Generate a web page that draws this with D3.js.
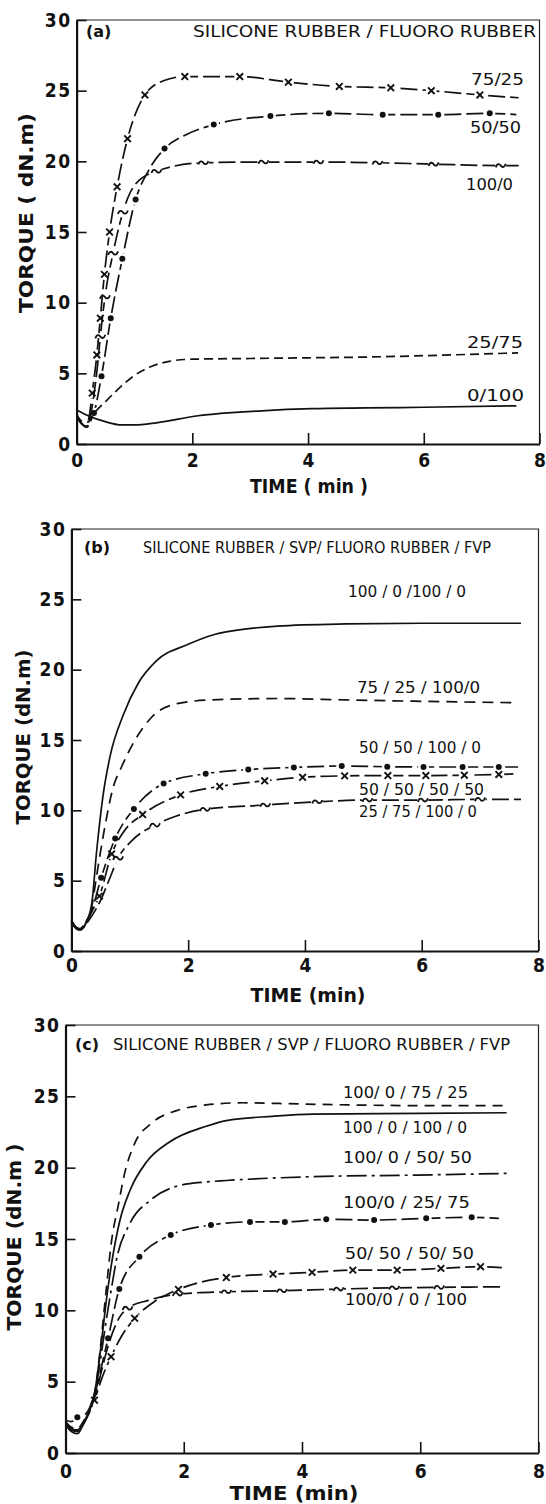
<!DOCTYPE html>
<html>
<head>
<meta charset="utf-8">
<script src="https://cdn.jsdelivr.net/npm/d3@7"></script>
<style>
	body { margin: 0; background: #fff; }
	svg text { fill: #111; }
</style>
</head>
<body>
<div id="chart"></div>
<script>
// axis ticks shared by all three panels
const timeTicks = [0, 2, 4, 6, 8];
const torqueTicks = [0, 5, 10, 15, 20, 25, 30];

// ---- panel (a) : silicone rubber / fluoro rubber ----
const titleA = "SILICONE RUBBER / FLUORO RUBBER";
const namesA = ["75/25", "50/50", "100/0", "25/75", "0/100"];
const a7525 = [[0,2.0],[0.08,1.5],[0.16,1.2],[0.22,2.0],[0.27,3.6],[0.35,6.3],[0.41,8.9],[0.48,12.0],[0.57,15.0],[0.70,18.2],[0.88,21.6],[1.18,24.7],[1.5,25.7],[1.87,26.0],[2.82,26.0],[3.66,25.6],[4.54,25.3],[5.43,25.2],[6.13,25.0],[6.97,24.7],[7.64,24.5]];
const a7525Marks = [0.27,0.35,0.41,0.48,0.57,0.70,0.88,1.18,1.87,2.82,3.66,4.54,5.43,6.13,6.97];
const a5050 = [[0,1.9],[0.09,1.4],[0.18,1.2],[0.24,1.6],[0.30,2.2],[0.43,4.8],[0.59,8.9],[0.79,13.1],[1.02,17.3],[1.25,19.4],[1.52,20.9],[1.9,21.9],[2.37,22.6],[3.35,23.2],[4.36,23.4],[5.29,23.3],[6.25,23.3],[7.14,23.4],[7.6,23.3]];
const a5050Marks = [0.30,0.43,0.59,0.79,1.02,1.52,2.37,3.35,4.36,5.29,6.25,7.14];
const a1000 = [[0,2.0],[0.09,1.45],[0.18,1.25],[0.24,2.0],[0.3,3.5],[0.36,5.5],[0.41,7.6],[0.49,10.4],[0.63,13.5],[0.80,16.4],[1.0,18.3],[1.38,19.3],[2.19,19.9],[3.23,19.95],[4.18,19.95],[5.2,19.9],[6.17,19.8],[7.33,19.7],[7.64,19.7]];
const a1000Marks = [0.41,0.49,0.63,0.80,1.38,2.19,3.23,4.18,5.2,6.17,7.33];
const a2575 = [[0,2.1],[0.1,1.6],[0.2,1.55],[0.29,2.1],[0.5,3.0],[0.75,4.0],[1.0,4.85],[1.3,5.5],[1.6,5.85],[2.0,6.0],[3.0,6.05],[4.0,6.1],[5.0,6.15],[6.0,6.25],[7.63,6.45]];
const a0100 = [[0,2.4],[0.2,2.0],[0.48,1.6],[0.78,1.35],[1.0,1.35],[1.38,1.5],[2.1,2.0],[3.2,2.35],[4.07,2.5],[5.0,2.55],[6.0,2.6],[7.6,2.7]];

// ---- panel (b) : silicone rubber / SVP / fluoro rubber / FVP ----
const titleB = "SILICONE RUBBER / SVP/ FLUORO RUBBER / FVP";
const namesB = ["100 / 0 /100 / 0", "75 / 25 / 100/0", "50 / 50 / 100 / 0", "50 / 50 / 50 / 50", "25 / 75 / 100 / 0"];
const b1000 = [[0,2.2],[0.07,1.7],[0.15,1.5],[0.25,2.0],[0.35,3.4],[0.43,7.0],[0.54,11.0],[0.66,13.8],[0.89,16.8],[1.14,19.0],[1.45,20.6],[2.0,21.8],[2.45,22.5],[3.0,22.9],[3.53,23.1],[4.7,23.25],[6.0,23.3],[7.7,23.3]];
const b7525 = [[0,2.1],[0.08,1.6],[0.15,1.5],[0.25,2.0],[0.35,3.2],[0.43,5.3],[0.55,8.3],[0.72,11.7],[0.86,13.1],[1.09,15.0],[1.37,16.6],[1.83,17.6],[2.4,17.85],[3.53,17.95],[4.7,17.85],[6.0,17.75],[7.64,17.65]];
const b5050f = [[0,2.2],[0.08,1.7],[0.15,1.6],[0.25,2.1],[0.35,2.9],[0.51,5.2],[0.75,8.0],[1.07,10.1],[1.58,11.9],[2.3,12.6],[3.03,12.9],[3.81,13.05],[4.63,13.15],[5.41,13.1],[6.03,13.08],[6.7,13.08],[7.32,13.08],[7.65,13.08]];
const b5050fMarks = [0.51,0.75,1.07,1.58,2.3,3.03,3.81,4.63,5.41,6.03,6.7,7.32];
const b5050 = [[0,2.1],[0.08,1.7],[0.15,1.55],[0.25,2.0],[0.35,2.8],[0.48,3.9],[0.69,6.9],[0.9,8.5],[1.22,9.7],[1.87,11.1],[2.54,11.7],[3.31,12.1],[3.96,12.35],[4.68,12.45],[5.42,12.47],[6.07,12.47],[6.73,12.5],[7.32,12.55],[7.65,12.6]];
const b5050Marks = [0.48,0.69,1.22,1.87,2.54,3.31,3.96,4.68,5.42,6.07,6.73,7.32];
const b2575 = [[0,2.0],[0.08,1.6],[0.15,1.5],[0.25,1.9],[0.35,2.5],[0.5,3.6],[0.65,5.1],[0.8,6.6],[1.05,7.9],[1.43,8.95],[1.8,9.6],[2.29,10.07],[3.32,10.38],[4.21,10.61],[5.07,10.73],[6.02,10.73],[7.0,10.78],[7.7,10.78]];
const b2575Marks = [0.8,1.43,2.29,3.32,4.21,5.07,6.02,7.0];

// ---- panel (c) : silicone rubber / SVP / fluoro rubber / FVP ----
const titleC = "SILICONE RUBBER / SVP / FLUORO RUBBER / FVP";
const namesC = ["100/ 0 / 75 / 25", "100 / 0 / 100 / 0", "100/ 0 / 50/ 50", "100/0 / 25/ 75", "50/ 50 / 50/ 50", "100/0 / 0 / 100"];
const c7525 = [[0,2.2],[0.1,1.8],[0.2,1.7],[0.3,2.2],[0.4,3.0],[0.5,4.3],[0.58,7.0],[0.69,11.5],[0.78,14.9],[0.89,17.3],[1.0,19.6],[1.17,21.7],[1.45,23.1],[1.88,24.0],[2.38,24.4],[3.0,24.55],[3.6,24.5],[4.76,24.4],[6.0,24.35],[7.45,24.35]];
const c1000 = [[0,2.0],[0.1,1.5],[0.2,1.35],[0.3,2.0],[0.4,3.0],[0.5,4.4],[0.6,7.5],[0.7,11.0],[0.8,13.8],[0.92,16.3],[1.09,18.4],[1.37,20.4],[1.76,21.8],[2.38,22.9],[2.72,23.3],[3.5,23.6],[4.18,23.75],[6.0,23.8],[7.46,23.85]];
const c5050 = [[0,2.1],[0.1,1.7],[0.2,1.6],[0.3,2.1],[0.4,2.9],[0.5,4.2],[0.6,6.8],[0.7,9.6],[0.78,11.6],[0.86,13.5],[1.09,16.1],[1.43,17.7],[1.88,18.7],[2.38,19.0],[2.72,19.1],[4.18,19.37],[5.94,19.48],[7.46,19.6]];
const c2575 = [[0,2.3],[0.1,2.2],[0.2,2.5],[0.3,2.6],[0.4,3.1],[0.5,4.2],[0.6,5.9],[0.72,8.04],[0.91,11.5],[1.25,13.76],[1.78,15.28],[2.46,15.98],[3.12,16.2],[3.71,16.2],[4.41,16.38],[5.22,16.33],[6.1,16.45],[6.87,16.52],[7.33,16.45]];
const c2575Marks = [0.2,0.72,0.91,1.25,1.78,2.46,3.12,3.71,4.41,5.22,6.1,6.87];
const c5050x = [[0,2.0],[0.1,1.6],[0.2,1.5],[0.3,2.0],[0.4,2.8],[0.49,3.7],[0.62,5.3],[0.77,6.75],[0.95,8.2],[1.17,9.44],[1.5,10.6],[1.91,11.47],[2.72,12.3],[3.51,12.54],[4.17,12.66],[4.86,12.82],[5.61,12.82],[6.35,12.94],[7.02,13.06],[7.38,13.0]];
const c5050xMarks = [0.49,0.77,1.17,1.91,2.72,3.51,4.17,4.86,5.61,6.35,7.02];
const c0100 = [[0,2.1],[0.1,1.7],[0.2,1.6],[0.3,2.1],[0.4,2.9],[0.5,4.0],[0.6,5.6],[0.7,7.2],[0.85,9.0],[1.05,10.15],[1.4,10.7],[1.9,11.14],[2.72,11.3],[3.66,11.37],[4.62,11.49],[5.56,11.58],[6.32,11.61],[7.35,11.65]];
const c0100Marks = [1.05,1.9,2.72,3.66,4.62,5.56,6.32];

// line dash styles
const LONG = "17,5";

const panels = [
	{
		tag: "(a)", title: titleA, left: 76.6, right: 539.5, top: 20, bottom: 444,
		tagPos: [86, 37], titlePos: [193, 37, 343],
		yTitle: ["TORQUE ( dN.m)", 26, 213, 200], xTitle: ["TIME ( min )", 309, 493, 118],
		xTickBase: 23, yTickPad: 5,
		series: [
			{ data: a7525, marks: a7525Marks, marker: "x", dash: LONG, label: [namesA[0], 471, 85, 53] },
			{ data: a5050, marks: a5050Marks, marker: "dot", dash: LONG, label: [namesA[1], 470, 133, 51] },
			{ data: a1000, marks: a1000Marks, marker: "tilde", dash: LONG, label: [namesA[2], 466, 190, 47] },
			{ data: a2575, dash: "9,5", label: [namesA[3], 467, 348, 56] },
			{ data: a0100, dash: null, label: [namesA[4], 467, 401, 57] }
		]
	},
	{
		tag: "(b)", title: titleB, left: 71.4, right: 538.5, top: 529, bottom: 951,
		tagPos: [84, 553], titlePos: [143, 553, 348],
		yTitle: ["TORQUE (dN.m)", 23, 737, 175], xTitle: ["TIME (min)", 308, 1002, 115],
		xTickBase: 21, yTickPad: 5,
		series: [
			{ data: b1000, dash: null, label: [namesB[0], 348, 597, 118] },
			{ data: b7525, dash: "11,7", label: [namesB[1], 357, 693, 123] },
			{ data: b5050f, marks: b5050fMarks, marker: "dot", dash: LONG, label: [namesB[2], 359, 753, 122] },
			{ data: b5050, marks: b5050Marks, marker: "x", dash: LONG, label: [namesB[3], 359, 795, 125] },
			{ data: b2575, marks: b2575Marks, marker: "tilde", dash: LONG, label: [namesB[4], 359, 817, 118] }
		]
	},
	{
		tag: "(c)", title: titleC, left: 65.5, right: 538.5, top: 1025, bottom: 1453,
		tagPos: [75, 1050], titlePos: [113, 1050, 397],
		yTitle: ["TORQUE (dN.m )", 14, 1237, 187], xTitle: ["TIME (min)", 294, 1500, 129],
		xTickBase: 25, yTickPad: 5,
		series: [
			{ data: c7525, dash: "10,7", label: [namesC[0], 343, 1098, 125] },
			{ data: c1000, dash: null, label: [namesC[1], 343, 1133, 124] },
			{ data: c5050, dash: "20,5,3,5", label: [namesC[2], 343, 1163, 129] },
			{ data: c2575, marks: c2575Marks, marker: "dot", dash: LONG, label: [namesC[3], 343, 1208, 127] },
			{ data: c5050x, marks: c5050xMarks, marker: "x", dash: LONG, label: [namesC[4], 345, 1259, 129] },
			{ data: c0100, marks: c0100Marks, marker: "tilde", dash: LONG, label: [namesC[5], 345, 1305, 122] }
		]
	}
];

const svg = d3.select("#chart")
	.append("svg")
	.attr("width", 546)
	.attr("height", 1504);

const defs = svg.append("defs");
const tickFont = "'DejaVu Sans Condensed', 'DejaVu Sans', sans-serif";
const textFont = "'DejaVu Sans', sans-serif";

function drawPanel(p, pi) {
	const x = d3.scaleLinear().domain([0, 8]).range([p.left, p.right]);
	const y = d3.scaleLinear().domain([0, 30]).range([p.bottom, p.top]);
	const graph = svg.append("g");

	// thin frame on top and right
	graph.append("path")
		.attr("d", `M${p.left},${p.top}H${p.right}V${p.bottom}`)
		.attr("fill", "none")
		.attr("stroke", "#222")
		.attr("stroke-width", 1.2);

	// axes, ticks pointing inwards
	const xAxisGroup = graph.append("g").attr("transform", `translate(0, ${p.bottom})`);
	xAxisGroup.call(d3.axisBottom(x).tickValues(timeTicks).tickSizeInner(-11).tickSizeOuter(0));
	const yAxisGroup = graph.append("g").attr("transform", `translate(${p.left}, 0)`);
	yAxisGroup.call(d3.axisLeft(y).tickValues(torqueTicks).tickSizeInner(-10).tickSizeOuter(0).tickPadding(p.yTickPad));

	[xAxisGroup, yAxisGroup].forEach(ax => {
		ax.select(".domain").attr("stroke", "#111").attr("stroke-width", 2.2);
		ax.selectAll(".tick line").attr("stroke", "#111").attr("stroke-width", 1.6);
		ax.selectAll("text")
			.attr("fill", "#111")
			.style("font-family", tickFont)
			.style("font-weight", "bold")
			.style("font-size", "19px");
	});
	yAxisGroup.selectAll("text").style("letter-spacing", "1.5px");
	xAxisGroup.selectAll("text").attr("y", p.xTickBase).attr("dy", null);

	// titles
	graph.append("text")
		.attr("x", p.tagPos[0]).attr("y", p.tagPos[1])
		.style("font-family", textFont).style("font-weight", "bold").style("font-size", "16px")
		.text(p.tag);
	graph.append("text")
		.attr("x", p.titlePos[0]).attr("y", p.titlePos[1])
		.attr("textLength", p.titlePos[2]).attr("lengthAdjust", "spacingAndGlyphs")
		.style("font-family", textFont).style("font-size", "15px")
		.text(p.title);
	graph.append("text")
		.attr("x", p.xTitle[1]).attr("y", p.xTitle[2])
		.attr("text-anchor", "middle")
		.attr("textLength", p.xTitle[3]).attr("lengthAdjust", "spacingAndGlyphs")
		.style("font-family", textFont).style("font-weight", "bold").style("font-size", "19px")
		.text(p.xTitle[0]);
	graph.append("text")
		.attr("transform", `translate(${p.yTitle[1]}, ${p.yTitle[2]}) rotate(-90)`)
		.attr("text-anchor", "middle")
		.attr("dy", "0.36em")
		.attr("textLength", p.yTitle[3]).attr("lengthAdjust", "spacingAndGlyphs")
		.style("font-family", textFont).style("font-weight", "bold").style("font-size", "19px")
		.text(p.yTitle[0]);

	const line = d3.line()
		.x(d => x(d[0]))
		.y(d => y(d[1]))
		.curve(d3.curveMonotoneX);

	p.series.forEach((s, si) => {
		const markPts = (s.marks || []).map(t => s.data.find(d => d[0] === t));
		let maskUrl = null;
		if (markPts.length) {
			// cut a small gap in the line around every marker
			const id = `gap-${pi}-${si}`;
			const mask = defs.append("mask").attr("id", id)
				.attr("maskUnits", "userSpaceOnUse")
				.attr("x", 0).attr("y", 0).attr("width", 546).attr("height", 1504);
			mask.append("rect").attr("width", 546).attr("height", 1504).attr("fill", "#fff");
			mask.selectAll("circle").data(markPts).enter().append("circle")
				.attr("cx", d => x(d[0])).attr("cy", d => y(d[1]))
				.attr("r", 5.5).attr("fill", "#000");
			maskUrl = `url(#${id})`;
		}

		graph.append("path")
			.datum(s.data)
			.attr("d", line)
			.attr("fill", "none")
			.attr("stroke", "#111")
			.attr("stroke-width", 1.7)
			.attr("stroke-dasharray", s.dash)
			.attr("mask", maskUrl);

		const marks = graph.selectAll(null).data(markPts).enter().append("g")
			.attr("transform", d => `translate(${x(d[0])}, ${y(d[1])})`);
		if (s.marker === "dot") {
			marks.append("circle").attr("r", 3).attr("fill", "#111");
		} else if (s.marker === "x") {
			marks.append("path").attr("d", "M-3.3,-3.3L3.3,3.3M-3.3,3.3L3.3,-3.3")
				.attr("stroke", "#111").attr("stroke-width", 1.9).attr("fill", "none");
		} else if (s.marker === "tilde") {
			marks.append("path").attr("d", "M-5,1.8C-3.5,-2.8 -1,-1.6 0,0S3.5,2.8 5,-1.8")
				.attr("stroke", "#111").attr("stroke-width", 1.8).attr("fill", "none");
		}

		// series label at the right end
		graph.append("text")
			.attr("x", s.label[1]).attr("y", s.label[2])
			.attr("textLength", s.label[3]).attr("lengthAdjust", "spacingAndGlyphs")
			.style("font-family", textFont).style("font-size", "16px")
			.text(s.label[0]);
	});
}

panels.forEach(drawPanel);
</script>
</body>
</html>
